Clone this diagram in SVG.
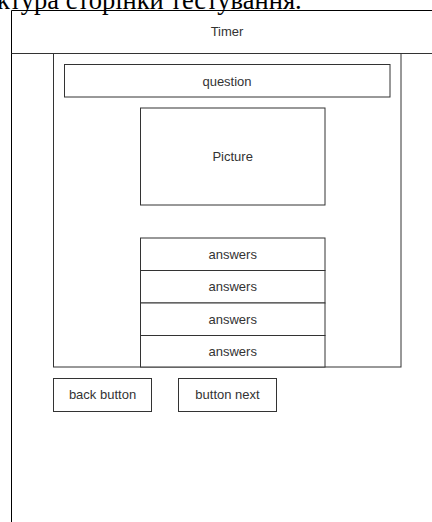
<svg xmlns="http://www.w3.org/2000/svg" width="432" height="522" viewBox="0 0 432 522">
<style>
.box{fill:#fff;stroke:#333;stroke-width:1}
.lbl{font-family:"Liberation Sans",Arial,sans-serif;font-size:13px;fill:#333;text-anchor:middle}
.cap{font-family:"Liberation Serif","Times New Roman",serif;font-size:26.5px;fill:#000}
</style>
<rect width="432" height="522" fill="#fff"/>
<text class="cap" x="-3" y="9">ктура сторінки тестування.</text>
<g id="page">
<path d="M11.5 522 V10.5 H432" fill="none" stroke="#000" stroke-width="1"/>
</g>
<g id="timer">
<path d="M11.5 53.5 H432" fill="none" stroke="#333" stroke-width="1"/>
<text class="lbl" x="227" y="35.5">Timer</text>
</g>
<g id="content">
<rect class="box" x="53.5" y="53.5" width="347.5" height="313.5"/>
</g>
<g id="question">
<rect class="box" x="64.5" y="64.5" width="325.5" height="32.5"/>
<text class="lbl" x="227" y="85.5">question</text>
</g>
<g id="picture">
<rect class="box" x="140.5" y="108" width="184.5" height="97"/>
<text class="lbl" x="232.7" y="160.5">Picture</text>
</g>
<g id="answer1">
<rect class="box" x="140.5" y="238" width="184.5" height="32.5"/>
<text class="lbl" x="232.7" y="258.5">answers</text>
</g>
<g id="answer2">
<rect class="box" x="140.5" y="270.5" width="184.5" height="32.5"/>
<text class="lbl" x="232.7" y="291">answers</text>
</g>
<g id="answer3">
<rect class="box" x="140.5" y="303" width="184.5" height="32.5"/>
<text class="lbl" x="232.7" y="323.5">answers</text>
</g>
<g id="answer4">
<rect class="box" x="140.5" y="335.5" width="184.5" height="31.5"/>
<text class="lbl" x="232.7" y="356">answers</text>
</g>
<g id="back">
<rect class="box" x="53.5" y="378.5" width="98" height="33"/>
<text class="lbl" x="102.5" y="399">back button</text>
</g>
<g id="next">
<rect class="box" x="178.5" y="378.5" width="98" height="33"/>
<text class="lbl" x="227.5" y="399">button next</text>
</g>
<g id="connectors"></g>
</svg>
